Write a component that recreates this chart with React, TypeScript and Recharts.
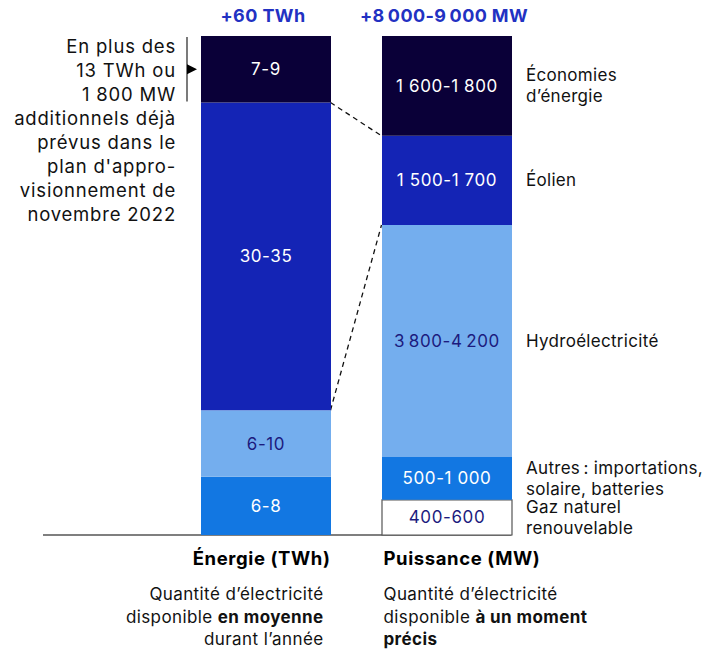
import React from "react";
import { BarChart, Bar, XAxis, YAxis, LabelList } from "recharts";
import * as Recharts from "recharts";

const categories = ["Énergie (TWh)", "Puissance (MW)"];
const totals = ["+60 TWh", "+8\u2009000-9\u2009000 MW"];

// segments listed bottom to top
const energyValues = [7, 8, 37, 8];
const energyLabels = ["6-8", "6-10", "30-35", "7-9"];
const powerValues = [600, 730, 3950, 1520, 1700];
const powerLabels = ["400-600", "500-1\u00a0000", "3\u2009800-4\u2009200", "1\u00a0500-1\u00a0700", "1\u00a0600-1\u00a0800"];
const powerNames = [
  "Gaz naturel\nrenouvelable",
  "Autres\u202f: importations,\nsolaire, batteries",
  "Hydroélectricité",
  "Éolien",
  "Économies\nd’énergie",
];
const noteLines = [
  "En plus des",
  "13 TWh ou",
  "1\u00a0800 MW",
  "additionnels déjà",
  "prévus dans le",
  "plan d'appro-",
  "visionnement de",
  "novembre 2022",
];
// [text, bold] pieces per caption line
const captions: [string, boolean][][][] = [
  [
    [["Quantité d’électricité", false]],
    [["disponible ", false], ["en moyenne", true]],
    [["durant l’année", false]],
  ],
  [
    [["Quantité d’électricité", false]],
    [["disponible ", false], ["à un moment", true]],
    [["précis", true]],
  ],
];
// dashed links: [energy segments below, power segments below]
const links = [
  [3, 4],
  [2, 3],
];

const TWH_MAX = 60;
const MW_MAX = 8500;

const NAVY = "#0a0038";
const BLUE = "#1424b5";
const LIGHT = "#74aeee";
const BRIGHT = "#1277e2";
const INK = "#1c1b7e";
const FONT = "Inter, 'Noto Sans', sans-serif";

const energyFill = [BRIGHT, LIGHT, BLUE, NAVY];
const energyInk = ["#fff", INK, "#fff", "#fff"];
const powerFill = ["#fff", BRIGHT, LIGHT, BLUE, NAVY];
const powerInk = [INK, "#fff", INK, "#fff", "#fff"];

const W = 721;
const H = 649;
const MARGIN = { top: 36, right: 184, bottom: 0, left: 175 };
const AXIS_H = 114;
const BAR = 130;

const rows = categories.map((cat, i) => {
  const r: any = { cat };
  if (i === 0) {
    energyValues.forEach((v, j) => {
      r[`e${j}`] = v;
      r[`e${j}Label`] = energyLabels[j];
    });
    r.eTop = totals[0];
    r.note = noteLines.join("\n");
  } else {
    powerValues.forEach((v, j) => {
      r[`p${j}`] = v;
      r[`p${j}Label`] = powerLabels[j];
      r[`p${j}Name`] = powerNames[j];
    });
    r.pTop = totals[1];
  }
  return r;
});

const box = (p: any) => {
  const vb = p.viewBox && p.viewBox.width != null ? p.viewBox : p;
  return { x: +vb.x, y: +vb.y, width: +vb.width, height: +vb.height };
};

const NameLabel = (props: any) => {
  if (!props.value) return null;
  const { x, y, width, height } = box(props);
  const lines = String(props.value).split("\n");
  const lh = 21;
  const tx = x + width + 14;
  const y0 = y + height / 2 - ((lines.length - 1) * lh) / 2 + 6;
  return (
    <text x={tx} y={y0} fontSize={17} letterSpacing={0.3} fill="#111" fontFamily={FONT}>
      {lines.map((l, i) => (
        <tspan key={i} x={tx} dy={i === 0 ? 0 : lh}>
          {l}
        </tspan>
      ))}
    </text>
  );
};

const TopLabel = (props: any) => {
  if (!props.value) return null;
  const { x, y, width } = box(props);
  return (
    <text
      x={x + width / 2 - 3}
      y={y - 14}
      textAnchor="middle"
      fontSize={18}
      letterSpacing={0.4}
      fontWeight={700}
      fill="#2231c2"
      fontFamily={FONT}
    >
      {props.value}
    </text>
  );
};

const NoteLabel = (props: any) => {
  if (!props.value) return null;
  const { x, y, height } = box(props);
  const lines = String(props.value).split("\n");
  const bx = x - 14;
  const cy = y + height / 2;
  return (
    <g fontFamily={FONT}>
      <line x1={bx} x2={bx} y1={y + 1} y2={y + height - 1} stroke="#222" strokeWidth={1.2} />
      <path d={`M${bx},${cy - 5} L${x - 4},${cy} L${bx},${cy + 5} Z`} fill="#000" />
      <text x={x - 25} y={y + 17} textAnchor="end" fontSize={18.5} letterSpacing={0.8} fill="#111">
        {lines.map((l, i) => (
          <tspan key={i} x={x - 25} dy={i === 0 ? 0 : 24}>
            {l}
          </tspan>
        ))}
      </text>
    </g>
  );
};

const CategoryTick = (props: any) => {
  const { x, y, payload, index } = props;
  const left = index === 0;
  const anchor = left ? "end" : "start";
  const tx = left ? x + BAR / 2 : x - BAR / 2 + 2;
  const cx = left ? x + BAR / 2 - 7 : x - BAR / 2 + 2;
  const lines = captions[index] || [];
  return (
    <g fontFamily={FONT}>
      <text x={tx} y={y + 30} textAnchor={anchor} fontSize={18.5} letterSpacing={0.6} fontWeight={700} fill="#000">
        {payload.value}
      </text>
      {lines.map((parts, i) => (
        <text key={i} x={cx} y={y + 65 + i * 22.5} textAnchor={anchor} fontSize={17} letterSpacing={0.4} fill="#111">
          {parts.map(([t, b], k) => (
            <tspan key={k} fontWeight={b ? 700 : 400}>
              {t}
            </tspan>
          ))}
        </text>
      ))}
    </g>
  );
};

const R: any = Recharts;
const usePlotBox: () => any = R.usePlotArea
  ? () => R.usePlotArea()
  : R.useOffset
  ? () => {
      const o = R.useOffset();
      return o ? { x: o.left, y: o.top, width: o.width, height: o.height } : undefined;
    }
  : () => undefined;

const Connectors = () => {
  const p =
    usePlotBox() || {
      x: MARGIN.left,
      y: MARGIN.top,
      width: W - MARGIN.left - MARGIN.right,
      height: H - MARGIN.top - AXIS_H,
    };
  const band = p.width / categories.length;
  const leftEdge = p.x + band / 2 + BAR / 2;
  const rightEdge = p.x + band * 1.5 - BAR / 2;
  const base = p.y + p.height;
  const yT = (v: number) => base - (v / TWH_MAX) * p.height;
  const yM = (v: number) => base - (v / MW_MAX) * p.height;
  const sum = (a: number[], n: number) => a.slice(0, n).reduce((s, v) => s + v, 0);
  return (
    <g>
      {links.map(([e, m], i) => (
        <line
          key={i}
          x1={leftEdge}
          y1={yT(sum(energyValues, e))}
          x2={rightEdge}
          y2={yM(sum(powerValues, m))}
          stroke="#111"
          strokeWidth={1.3}
          strokeDasharray="5 4"
        />
      ))}
      <line x1={43} x2={rightEdge + BAR} y1={base} y2={base} stroke="#555" strokeWidth={1.6} />
    </g>
  );
};

export default function App() {
  return (
    <div style={{ width: W, height: H }}>
      <style>{"body{margin:0}"}</style>
      <BarChart width={W} height={H} data={rows} margin={MARGIN} barSize={BAR}>
        <XAxis
          xAxisId="cat"
          dataKey="cat"
          height={AXIS_H}
          axisLine={false}
          tickLine={false}
          tickSize={0}
          tickMargin={0}
          interval={0}
          tick={(p: any) => <CategoryTick {...p} />}
        />
        <YAxis yAxisId="twh" hide domain={[0, TWH_MAX]} />
        <YAxis yAxisId="mw" hide domain={[0, MW_MAX]} />
        {energyValues.map((_, i) => (
          <Bar
            key={`e${i}`}
            xAxisId="cat"
            yAxisId="twh"
            stackId="s"
            dataKey={`e${i}`}
            fill={energyFill[i]}
            isAnimationActive={false}
          >
            <LabelList
              dataKey={`e${i}Label`}
              position="center"
              fill={energyInk[i]}
              fontSize={17}
              letterSpacing={0.6}
              fontFamily={FONT}
            />
            {i === energyValues.length - 1 && <LabelList dataKey="eTop" content={TopLabel} />}
            {i === energyValues.length - 1 && <LabelList dataKey="note" content={NoteLabel} />}
          </Bar>
        ))}
        {powerValues.map((_, i) => (
          <Bar
            key={`p${i}`}
            xAxisId="cat"
            yAxisId="mw"
            stackId="s"
            dataKey={`p${i}`}
            fill={powerFill[i]}
            stroke={i === 0 ? "#555" : undefined}
            strokeWidth={i === 0 ? 1.2 : 0}
            isAnimationActive={false}
          >
            <LabelList
              dataKey={`p${i}Label`}
              position="center"
              fill={powerInk[i]}
              fontSize={17}
              letterSpacing={0.6}
              fontFamily={FONT}
            />
            <LabelList dataKey={`p${i}Name`} content={NameLabel} />
            {i === powerValues.length - 1 && <LabelList dataKey="pTop" content={TopLabel} />}
          </Bar>
        ))}
        <Connectors />
      </BarChart>
    </div>
  );
}
